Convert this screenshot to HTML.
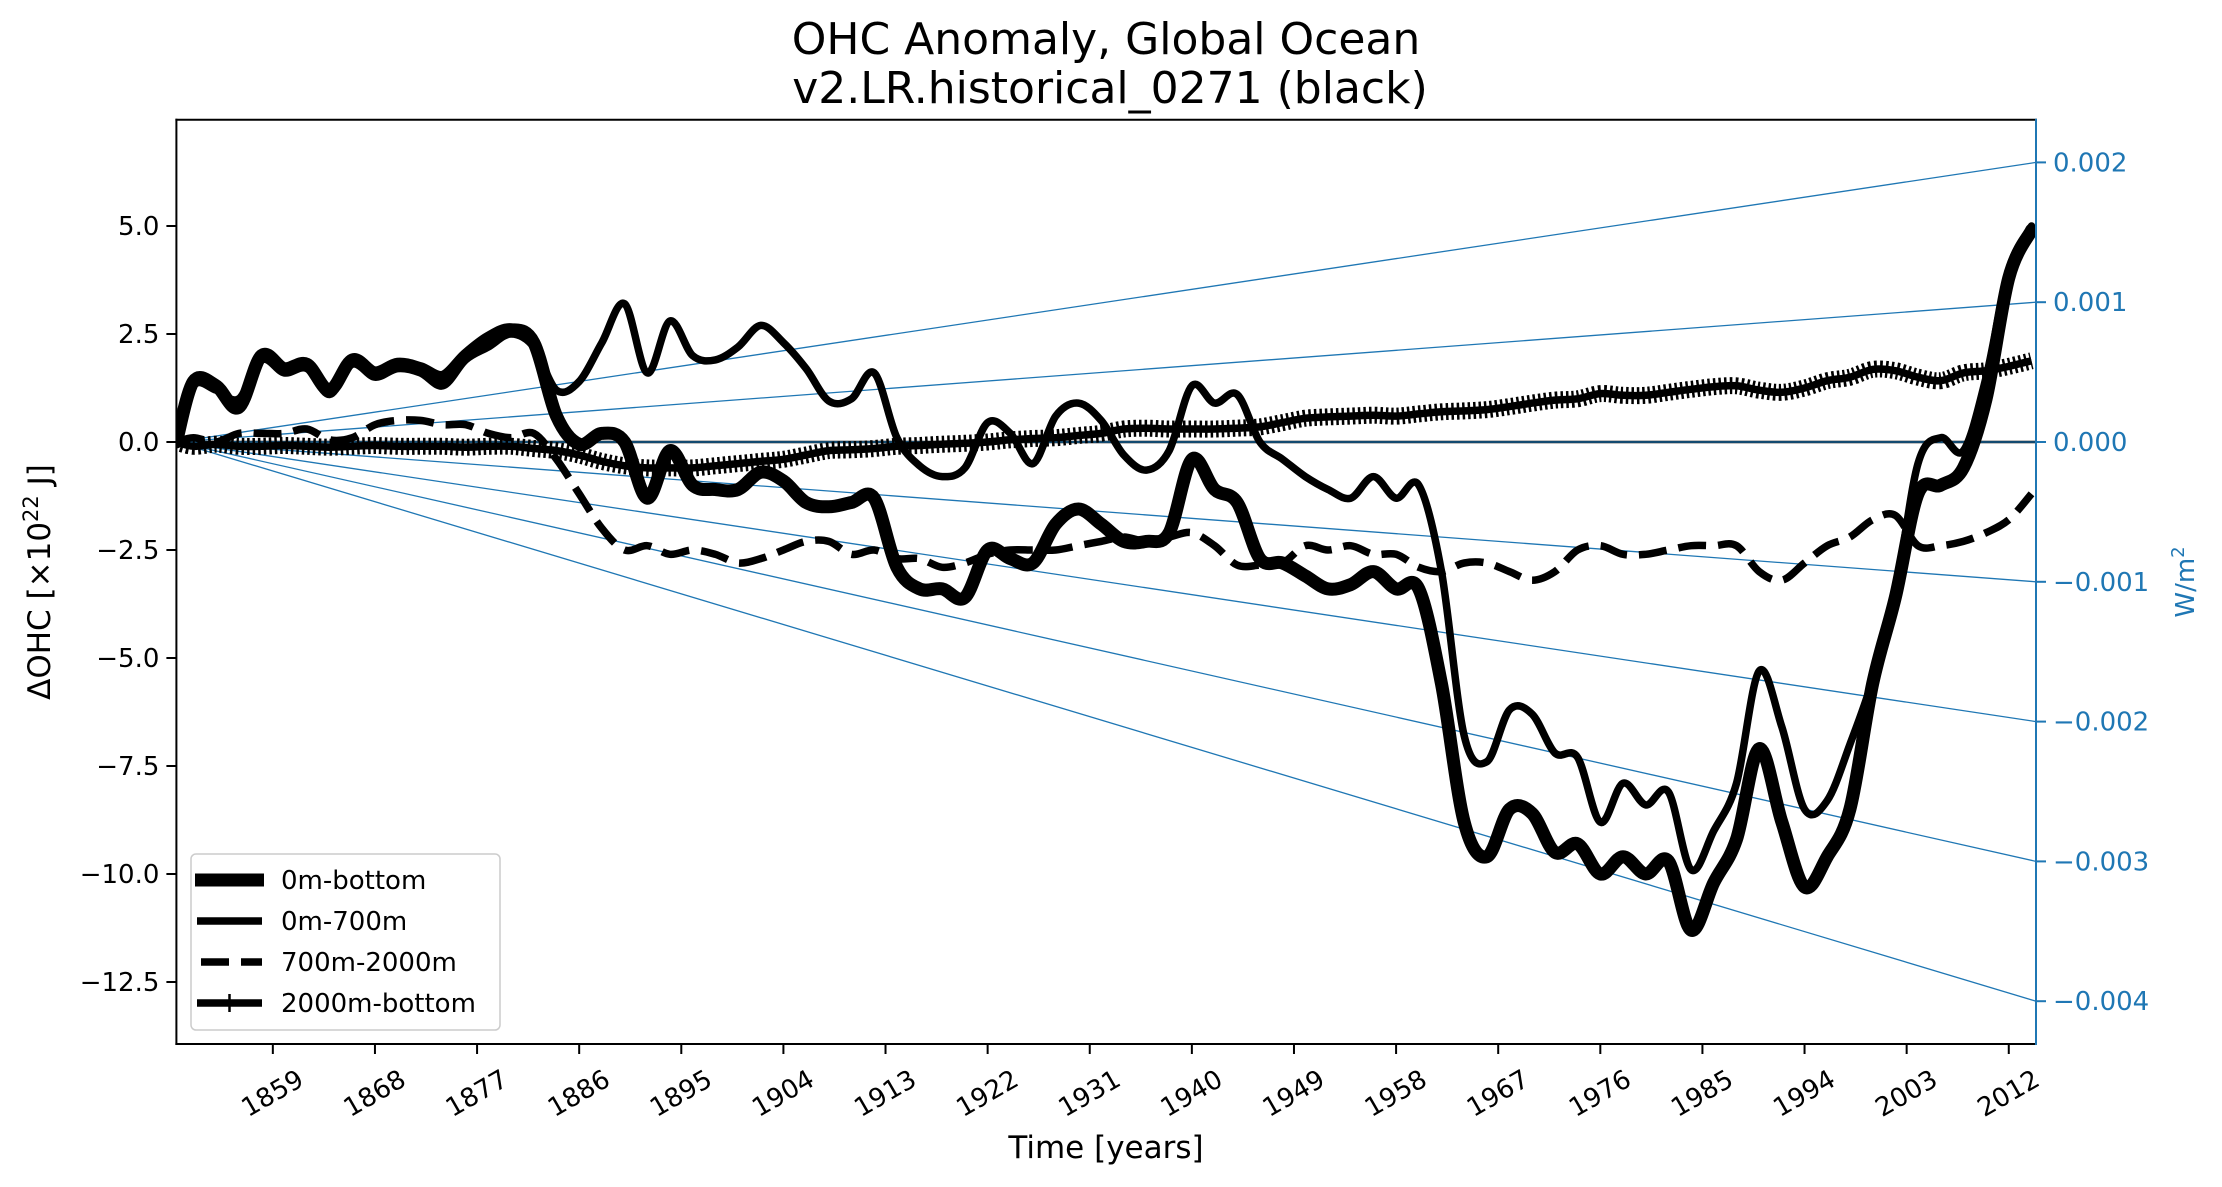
<!DOCTYPE html>
<html><head><meta charset="utf-8"><style>
html,body{margin:0;padding:0;background:#fff;}
svg{display:block;font-family:"DejaVu Sans","Liberation Sans",sans-serif;}
</style></head><body>
<svg id="chart" width="2222" height="1187" viewBox="0 0 2222 1187" xmlns="http://www.w3.org/2000/svg">
<rect width="2222" height="1187" fill="#fff"/>
<text x="1106" y="54" font-size="44" text-anchor="middle">OHC Anomaly, Global Ocean</text>
<text x="1110" y="103" font-size="44" text-anchor="middle">v2.LR.historical_0271 (black)</text>
<defs><clipPath id="plotclip"><rect x="176.4" y="119.8" width="1859.6" height="924.2"/></clipPath></defs>
<g id="fan" clip-path="url(#plotclip)"></g>
<g id="series" clip-path="url(#plotclip)"></g>
<g id="axes"></g>
<g id="legend">
  <rect x="191" y="854" width="309" height="176" rx="5" fill="#fff" fill-opacity="0.8" stroke="#cccccc" stroke-width="1.5"/>
  <g>
    <line x1="195" y1="880" x2="264" y2="880" stroke="#000" stroke-width="13"/>
    <text x="281" y="889" font-size="26">0m-bottom</text></g>
  <g>
    <line x1="197" y1="921" x2="262" y2="921" stroke="#000" stroke-width="7.5"/>
    <text x="281" y="930" font-size="26">0m-700m</text></g>
  <g>
    <line x1="201" y1="962" x2="262" y2="962" stroke="#000" stroke-width="7.5" stroke-dasharray="28 12"/>
    <text x="281" y="971" font-size="26">700m-2000m</text></g>
  <g>
    <line x1="197" y1="1003" x2="262" y2="1003" stroke="#000" stroke-width="7.5"/>
    <line x1="229.5" y1="994" x2="229.5" y2="1012" stroke="#000" stroke-width="2.5"/>
    <text x="281" y="1012" font-size="26">2000m-bottom</text></g>
</g>
</svg>
<script>
const years = [1850.5,1852,1854,1856,1858,1860,1862,1864,1866,1868,1870,1872,1874,1876,1878,1880,1882,1884,1886,1888,1890,1892,1894,1896,1898,1900,1902,1904,1906,1908,1910,1912,1914,1916,1918,1920,1922,1924,1926,1928,1930,1932,1934,1936,1938,1940,1942,1944,1946,1948,1950,1952,1954,1956,1958,1960,1962,1964,1966,1968,1970,1972,1974,1976,1978,1980,1982,1984,1986,1988,1990,1992,1994,1996,1998,2000,2002,2004,2006,2008,2010,2012,2014];
const ohcTotal = [0,1.4,1.3,0.8,2.0,1.7,1.8,1.2,1.9,1.6,1.8,1.7,1.5,2.0,2.4,2.6,2.3,0.6,-0.05,0.2,0.0,-1.3,-0.2,-1.0,-1.1,-1.1,-0.7,-0.9,-1.4,-1.5,-1.4,-1.3,-2.9,-3.4,-3.4,-3.6,-2.5,-2.7,-2.8,-1.9,-1.55,-1.9,-2.3,-2.3,-2.1,-0.4,-1.1,-1.4,-2.7,-2.8,-3.1,-3.4,-3.3,-3.0,-3.4,-3.4,-5.6,-8.8,-9.6,-8.5,-8.6,-9.5,-9.3,-10.0,-9.6,-10.0,-9.7,-11.3,-10.2,-9.2,-7.1,-8.8,-10.3,-9.6,-8.5,-5.6,-3.6,-1.2,-1.0,-0.6,1.0,3.8,4.9];
const ohcUpper = [0,1.3,1.2,1.0,1.9,1.6,1.7,1.1,1.8,1.5,1.7,1.6,1.3,1.9,2.2,2.5,2.2,1.2,1.4,2.3,3.2,1.6,2.8,2.0,1.9,2.2,2.7,2.3,1.7,0.95,1.0,1.6,0.1,-0.55,-0.8,-0.6,0.45,0.2,-0.5,0.6,0.9,0.5,-0.3,-0.65,-0.2,1.3,0.9,1.1,0.0,-0.4,-0.8,-1.1,-1.3,-0.8,-1.3,-1.0,-3.0,-6.8,-7.4,-6.2,-6.3,-7.2,-7.3,-8.8,-7.9,-8.4,-8.1,-9.9,-9.0,-7.9,-5.3,-6.6,-8.5,-8.3,-7.0,-5.5,-3.5,-0.5,0.1,-0.2,1.5,4.0,5.0];
const ohcMid = [0,0.1,0.0,0.2,0.2,0.2,0.3,0.05,0.1,0.4,0.5,0.5,0.4,0.4,0.2,0.1,0.2,-0.4,-1.2,-2.0,-2.5,-2.4,-2.6,-2.5,-2.6,-2.8,-2.7,-2.5,-2.3,-2.3,-2.6,-2.5,-2.7,-2.7,-2.9,-2.8,-2.6,-2.5,-2.5,-2.5,-2.4,-2.3,-2.2,-2.3,-2.2,-2.1,-2.4,-2.85,-2.85,-2.8,-2.4,-2.5,-2.4,-2.6,-2.6,-2.9,-3.0,-2.8,-2.8,-3.0,-3.2,-3.0,-2.5,-2.4,-2.6,-2.6,-2.5,-2.4,-2.4,-2.4,-3.0,-3.2,-2.8,-2.4,-2.2,-1.8,-1.7,-2.4,-2.4,-2.3,-2.1,-1.8,-1.2];
const ohcDeep = [0,-0.1,-0.05,-0.1,-0.1,-0.08,-0.1,-0.12,-0.1,-0.08,-0.1,-0.1,-0.1,-0.12,-0.1,-0.1,-0.15,-0.2,-0.3,-0.45,-0.55,-0.6,-0.6,-0.6,-0.55,-0.5,-0.45,-0.4,-0.3,-0.2,-0.18,-0.15,-0.1,-0.08,-0.05,-0.03,0.0,0.05,0.08,0.1,0.15,0.2,0.3,0.32,0.3,0.3,0.3,0.32,0.35,0.45,0.55,0.58,0.6,0.62,0.6,0.65,0.7,0.72,0.75,0.82,0.9,0.97,1.0,1.12,1.08,1.08,1.15,1.22,1.28,1.3,1.2,1.15,1.25,1.42,1.5,1.68,1.65,1.5,1.42,1.6,1.65,1.75,1.88];
const leftTicks = [5.0,2.5,0.0,-2.5,-5.0,-7.5,-10.0,-12.5];
const rightTicks = [0.002,0.001,0.000,-0.001,-0.002,-0.003,-0.004];
const xTicks = [1859,1868,1877,1886,1895,1904,1913,1922,1931,1940,1949,1958,1967,1976,1985,1994,2003,2012];

const NS='http://www.w3.org/2000/svg';
const X0=176.4,X1=2036,Y0=119.8,Y1=1044;
const xMin=1850.5,xMax=2014.4;
const xS=v=>X0+(v-xMin)*(X1-X0)/(xMax-xMin);
const yS=v=>442-v*43.2;
const yR=w=>442-w*139800;
function mk(tag,attrs,parent){const e=document.createElementNS(NS,tag);for(const k in attrs)e.setAttribute(k,attrs[k]);parent.appendChild(e);return e;}
function fmtMinus(s){return s.replace('-','\u2212');}
function smoothPath(vals){
  const p=years.map((y,i)=>[xS(y),yS(vals[i])]);
  let d='M'+p[0][0].toFixed(1)+','+p[0][1].toFixed(1);
  for(let i=0;i<p.length-1;i++){
    const a=p[Math.max(i-1,0)],b=p[i],c=p[i+1],e=p[Math.min(i+2,p.length-1)];
    const c1=[b[0]+(c[0]-a[0])/6,b[1]+(c[1]-a[1])/6],c2=[c[0]-(e[0]-b[0])/6,c[1]-(e[1]-b[1])/6];
    d+=' C'+c1[0].toFixed(1)+','+c1[1].toFixed(1)+' '+c2[0].toFixed(1)+','+c2[1].toFixed(1)+' '+c[0].toFixed(1)+','+c[1].toFixed(1);
  }
  return d;
}
const fan=document.getElementById('fan');
rightTicks.forEach(w=>{
  const l=mk('line',{x1:xS(xMin),y1:yS(0),x2:X1,y2:yR(w),stroke:'#1f77b4','stroke-width':1.3},fan);
  
  
});
const ser=document.getElementById('series');
const zl=mk('line',{x1:X0,y1:yS(0),x2:X1,y2:yS(0),stroke:'#000','stroke-width':2.5},ser);


const zb=mk('line',{x1:X0,y1:yS(0),x2:X1,y2:yS(0),stroke:'#1f77b4','stroke-width':1.3},ser);



const s1=mk('path',{d:smoothPath(ohcTotal),fill:'none',stroke:'#000','stroke-width':13,'stroke-linejoin':'round','stroke-linecap':'round'},ser);


const s2=mk('path',{d:smoothPath(ohcUpper),fill:'none',stroke:'#000','stroke-width':7.5,'stroke-linejoin':'round','stroke-linecap':'round'},ser);


const s3=mk('path',{d:smoothPath(ohcMid),fill:'none',stroke:'#000','stroke-width':7.5,'stroke-dasharray':'28 12'},ser);


const s4=mk('path',{d:smoothPath(ohcDeep),fill:'none',stroke:'#000','stroke-width':7.5},ser);


const s4m=mk('path',{d:smoothPath(ohcDeep),fill:'none',stroke:'#000','stroke-width':17,'stroke-dasharray':'2.5 3'},ser);



const ax=document.getElementById('axes');
const sp=[['spine-left',X0,Y0,X0,Y1,'#000'],['spine-top',X0,Y0,X1,Y0,'#000'],['spine-bottom',X0,Y1,X1,Y1,'#000'],['spine-right',X1,Y0,X1,Y1,'#1f77b4']];
sp.forEach(s=>{
  const l=mk('line',{x1:s[1],y1:s[2],x2:s[3],y2:s[4],stroke:s[5],'stroke-width':2,'stroke-linecap':'square'},ax);
  
  
});
leftTicks.forEach(v=>{
  const y=yS(v);
  mk('line',{x1:X0-10,y1:y,x2:X0,y2:y,stroke:'#000','stroke-width':2},ax);
  const t=mk('text',{x:X0-17,y:y+9,'font-size':26,'text-anchor':'end'},ax);
  t.textContent=fmtMinus(v.toFixed(1));
  
  
});
rightTicks.forEach(w=>{
  const y=yR(w);
  mk('line',{x1:X1,y1:y,x2:X1+10,y2:y,stroke:'#1f77b4','stroke-width':2},ax);
  const t=mk('text',{x:X1+17,y:y+9,'font-size':26,fill:'#1f77b4'},ax);
  t.textContent=fmtMinus(w.toFixed(3));
  
  
});
xTicks.forEach(yr=>{
  const x=xS(yr);
  mk('line',{x1:x,y1:Y1,x2:x,y2:Y1+10,stroke:'#000','stroke-width':2},ax);
  const t=mk('text',{x:x,y:1094,'font-size':26,'text-anchor':'middle','dominant-baseline':'central',transform:'rotate(-30 '+x+' 1094)'},ax);
  t.textContent=String(yr);
  
  
});
const xl=mk('text',{x:1106,y:1158,'font-size':31,'text-anchor':'middle'},ax);
xl.textContent='Time [years]';


const yl=mk('text',{x:0,y:0,'font-size':31,'text-anchor':'middle',transform:'translate(50 582) rotate(-90)'},ax);
yl.innerHTML='\u0394OHC [\u00d710<tspan font-size="21" dy="-12">22</tspan><tspan dy="12"> J]</tspan>';


const y2=mk('text',{x:0,y:0,'font-size':26,'text-anchor':'middle',fill:'#1f77b4',transform:'translate(2194 582) rotate(-90)'},ax);
y2.innerHTML='W/m<tspan font-size="18" dy="-10">2</tspan>';


</script>
</body></html>
